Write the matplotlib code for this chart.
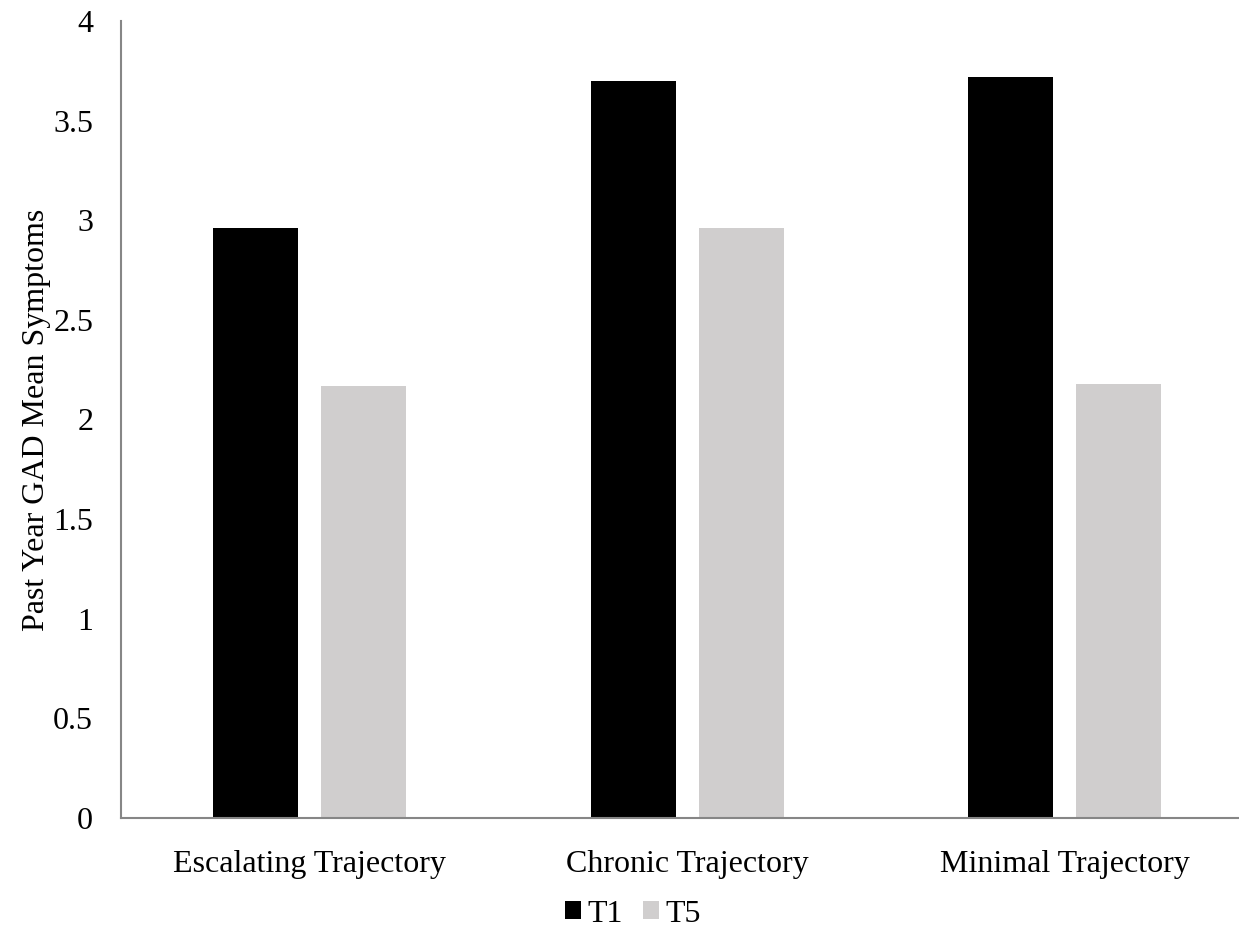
import matplotlib.pyplot as plt
import numpy as np

categories = ["Escalating Trajectory", "Chronic Trajectory", "Minimal Trajectory"]
t1_values = [2.96, 3.70, 3.72]
t5_values = [2.17, 2.96, 2.18]
y_ticks = [0, 0.5, 1, 1.5, 2, 2.5, 3, 3.5, 4]
y_tick_labels = ["0", "0.5", "1", "1.5", "2", "2.5", "3", "3.5", "4"]

plt.rcParams['font.family'] = ['Liberation Serif', 'DejaVu Serif']
FS = 23

fig = plt.figure(figsize=(12.39, 9.34), dpi=100)
ax = fig.add_axes([121 / 1239, 1 - 818 / 934, 1132.5 / 1239, 797 / 934])

x = np.arange(len(categories))
width = 0.225
offset = 0.143
ax.bar(x - offset, t1_values, width, color='black', label='T1')
ax.bar(x + offset, t5_values, width, color='#d0cece', label='T5')

ax.set_xlim(-0.5, 2.5)
ax.set_ylim(0, 4)
ax.set_yticks(y_ticks)
ax.set_yticklabels(y_tick_labels, fontsize=FS)
ax.set_xticks(x)
ax.set_xticklabels(categories, fontsize=FS)
ax.tick_params(axis='both', length=0)
ax.tick_params(axis='y', pad=20)
ax.tick_params(axis='x', pad=23)
ax.set_ylabel("Past Year GAD Mean Symptoms", fontsize=FS)
ax.yaxis.set_label_coords(-0.062, 0.5)

for side in ['top', 'right']:
    ax.spines[side].set_visible(False)
for side in ['left', 'bottom']:
    ax.spines[side].set_color('#868686')
    ax.spines[side].set_linewidth(1.5)

fig.legend(loc='center', bbox_to_anchor=(633 / 1239, 1 - 914 / 934), ncol=2,
           frameon=False, fontsize=FS, handlelength=0.5, handleheight=0.5,
           handletextpad=0.22, columnspacing=0.62, borderpad=0)

fig.savefig("out.png", dpi=100)
